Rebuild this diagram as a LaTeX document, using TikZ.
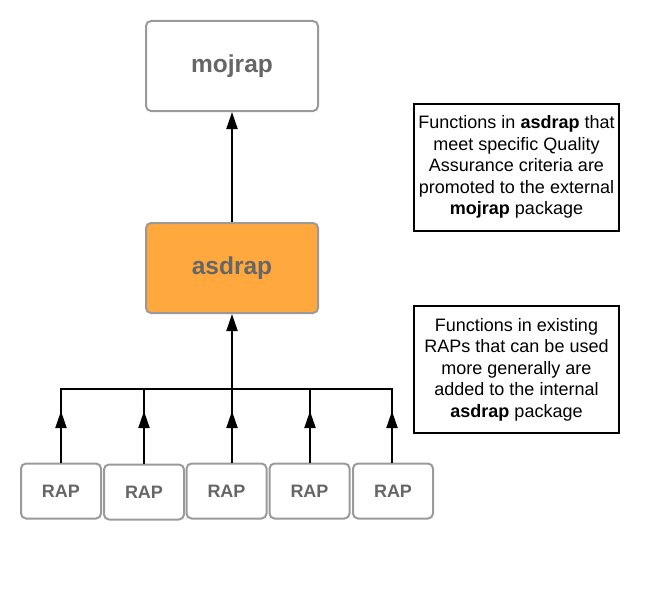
\documentclass[tikz,border=0pt]{standalone}
\usepackage{fontspec}
\setmainfont{Liberation Sans}
\usetikzlibrary{arrows.meta}
\definecolor{boxgray}{HTML}{9A9A9A}
\definecolor{txtgray}{HTML}{666666}
\definecolor{orangefill}{HTML}{FFA83E}
\begin{document}
\begin{tikzpicture}[x=1pt,y=-1pt,
 pkg/.style={draw=boxgray, line width=2pt, rounded corners=5pt, minimum width=172pt, minimum height=90pt, font=\fontsize{24.5}{28}\selectfont\bfseries, text=txtgray, inner sep=0pt},
 rapbox/.style={draw=boxgray, line width=2pt, rounded corners=5pt, minimum width=80pt, minimum height=55pt, font=\fontsize{18}{20}\selectfont\bfseries, text=txtgray, inner sep=0pt},
 note/.style={draw=black, line width=2pt, minimum width=205pt, minimum height=127pt, align=center, font=\fontsize{18}{21.5}\selectfont, inner sep=0pt},
 conn/.style={line width=2pt, draw=black},
 tipped/.style={conn, -{Triangle[length=17pt,width=11pt]}}
]
\useasboundingbox (0,0) rectangle (671,594);

\node[pkg] (mojrap) at (232,66) {mojrap};
\node[pkg, fill=orangefill] (asdrap) at (232,268) {asdrap};

\node[rapbox] (r1) at (61,491) {RAP};
\node[rapbox] (r2) at (144,492) {RAP};
\node[rapbox] (r3) at (226.5,491) {RAP};
\node[rapbox] (r4) at (309.5,491) {RAP};
\node[rapbox] (r5) at (393,491) {RAP};

\node[note] (n1) at (516.5,167) {Functions in \textbf{asdrap} that\\meet specific Quality\\Assurance criteria are\\promoted to the external\\\textbf{mojrap} package};
\node[note] (n2) at (516.5,369.5) {Functions in existing\\RAPs that can be used\\more generally are\\added to the internal\\\textbf{asdrap} package};

% bus
\coordinate (b1) at (61,389);
\coordinate (b2) at (144,389);
\coordinate (b3) at (232,389);
\coordinate (b4) at (310,389);
\coordinate (b5) at (392,389);
\coordinate (t1) at (61,411);
\coordinate (t2) at (144,411);
\coordinate (t3) at (232,411);
\coordinate (t4) at (310,411);
\coordinate (t5) at (392,411);
\coordinate (s1) at (61,463);
\coordinate (s2) at (144,464);
\coordinate (s3) at (232,463);
\coordinate (s4) at (310,463);
\coordinate (s5) at (392,463);

\draw[conn, line cap=rect] (b1) -- (b5);
\foreach \i in {1,...,5}{
  \draw[conn] (s\i) -- (b\i);
  \draw[tipped] (s\i) -- (t\i);
}
\draw[tipped] (b3) -- (asdrap.south);
\draw[tipped] (asdrap.north) -- (mojrap.south);
\end{tikzpicture}
\end{document}
